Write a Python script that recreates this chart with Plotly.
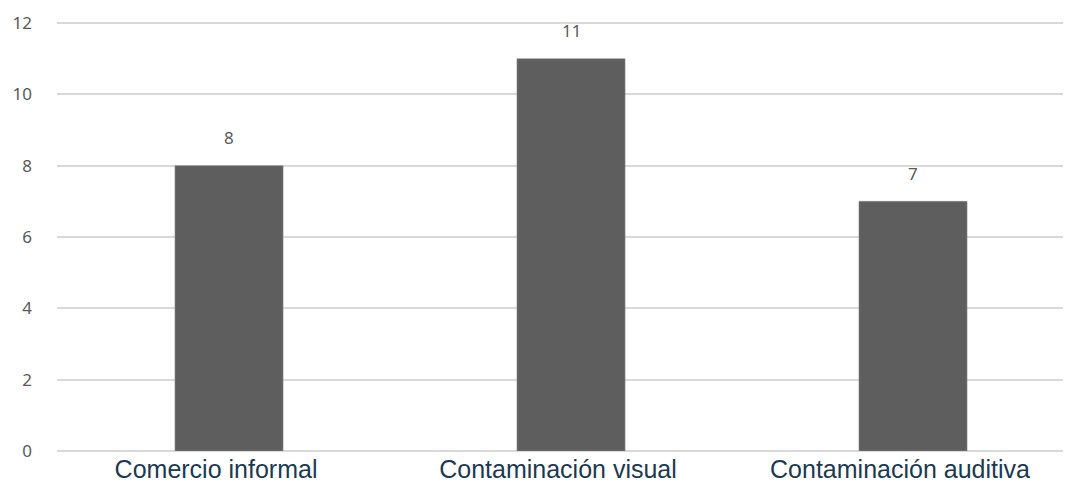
import plotly.graph_objects as go

categories = ["Comercio informal", "Contaminación visual", "Contaminación auditiva"]
values = [8, 11, 7]
y_ticks = [0, 2, 4, 6, 8, 10, 12]

fig = go.Figure()
fig.add_trace(go.Bar(
    x=[0, 1, 2], y=values, width=0.316,
    marker=dict(color="#5e5e5e", line=dict(color="#8a8a8a", width=0.6)),
    hoverinfo="skip",
))
for i, v in enumerate(values):
    fig.add_annotation(x=i, y=v, text=str(v), showarrow=False, yshift=28,
                       font=dict(family="Noto Sans", size=17, color="#595959"))

fig.update_layout(
    width=1063, height=476,
    margin=dict(l=49, r=0, t=14, b=33),
    paper_bgcolor="white", plot_bgcolor="white",
    showlegend=False,
    xaxis=dict(range=[-0.503, 2.462], tickmode="array", tickvals=[0, 1, 2],
               ticktext=categories, showgrid=False, zeroline=False,
               tickfont=dict(family="Liberation Sans", size=25, color="#1b3a52"),
               showline=False, ticks="", ticklabelstandoff=1, ticklabelshift=-13),
    yaxis=dict(range=[0, 12.03], tickmode="array", tickvals=y_ticks,
               ticktext=[str(t) for t in y_ticks],
               showgrid=True, gridcolor="#d9d9d9", gridwidth=1.5,
               zeroline=True, zerolinecolor="#d9d9d9", zerolinewidth=1.5,
               showline=False, ticks="",
               ticklabelstandoff=24,
               tickfont=dict(family="Noto Sans", size=17, color="#595959")),
)
fig.write_html("out.html")
